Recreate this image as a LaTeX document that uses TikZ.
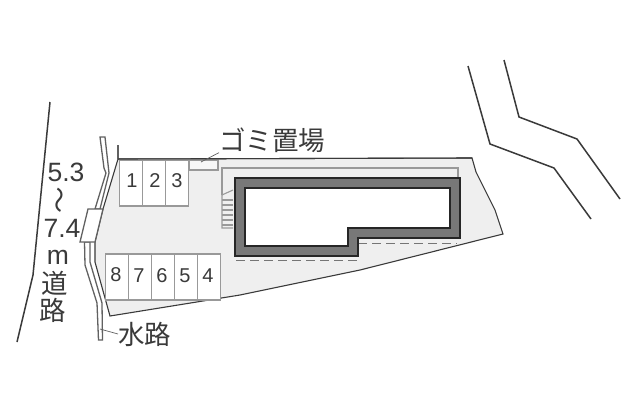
\documentclass[tikz,border=0pt]{standalone}
\usepackage{fontspec}
\setmainfont{Liberation Sans}
\newfontfamily\jpfont{Noto Sans CJK JP}
\definecolor{ink}{HTML}{3A3A3A}
\definecolor{site}{HTML}{EFEFEF}
\definecolor{wall}{HTML}{787878}
\definecolor{edge}{HTML}{999999}
\begin{document}
\begin{tikzpicture}[x=1pt,y=-1pt,
  road/.style={draw=ink,line width=1.5pt},
  bank/.style={draw=ink!80,line width=1.3pt},
  slot/.style={draw=edge,line width=1.4pt,fill=white,rectangle,inner sep=0pt,minimum width=23pt,minimum height=46pt},
  num/.style={text=ink,font=\fontsize{20}{20}\selectfont,inner sep=0pt},
  big/.style={text=ink,font=\fontsize{26.5}{26.5}\selectfont,inner sep=0pt},
  jp/.style={text=ink,font=\jpfont\fontsize{26.5}{26.5}\selectfont,inner sep=0pt},
  lead/.style={draw=ink!80,line width=0.7pt},
  rail/.style={draw=edge,line width=1.1pt}]
\useasboundingbox (0,0) rectangle (640,400);
\fill[white] (0,0) rectangle (640,400);

\filldraw[fill=site,draw=ink,line width=1.1pt] (118,159)--(472,158)--(476,172)--(495,210)--(503,234)--(360,270)--(240,295)--(110,316)--(95,262)--(95,242)--(103,209)--cycle;
\draw[bank] (118,145)--(118,160);

\node[slot] (s1) at (131,183) {};
\node[slot] (s2) at (154,183) {};
\node[slot] (s3) at (177,183) {};
\node[num] (n1) at (132,181) {1};
\node[num] (n2) at (155,181) {2};
\node[num] (n3) at (177,181) {3};
\node[slot] (s8) at (117,277) {};
\node[slot] (s7) at (140,277) {};
\node[slot] (s6) at (163,277) {};
\node[slot] (s5) at (186,277) {};
\node[slot] (s4) at (209,277) {};
\node[num] (n8) at (116,275) {8};
\node[num] (n7) at (139,276) {7};
\node[num] (n6) at (162,276) {6};
\node[num] (n5) at (185,276) {5};
\node[num] (n4) at (208,276) {4};

\filldraw[fill=site!50,draw=edge,line width=1.1pt] (189,160) rectangle (218,170);
\draw[draw=ink,line width=1.1pt] (118,159)--(472,158);

\draw[rail] (233,190)--(222,195)--(222,228)--(233,228);
\draw[rail] (222,195)--(222,168)--(458,168)--(458,178);
\draw[rail] (222,200)--(233,200);
\draw[rail] (222,205)--(233,205);
\draw[rail] (222,210)--(233,210);
\draw[rail] (222,215)--(233,215);
\draw[rail] (222,220)--(233,220);
\draw[rail] (222,225)--(233,225);
\draw[draw=ink!70,line width=1pt,dash pattern=on 9pt off 5pt] (358,243)--(457,243);
\draw[draw=ink!70,line width=1pt,dash pattern=on 9pt off 5pt] (236,260)--(357,260);

\filldraw[fill=wall,draw=black!85,line width=2.2pt] (235,178)--(460,178)--(460,238)--(358,238)--(358,256)--(235,256)--cycle;
\filldraw[fill=white,draw=black!85,line width=2.2pt] (245,188)--(450,188)--(450,228)--(348,228)--(348,246)--(245,246)--cycle;

\draw[road] (50,102)--(43,173)--(33,275)--(17,342);
\draw[road] (468,66)--(490,144)--(554,168)--(591,219);
\draw[road] (504,60)--(519,117)--(577,139)--(620,199);

\filldraw[fill=white,bank] (100,137)--(104,168)--(106,173)--(95,209)--(100,209)--(109,173)--(105,137)--cycle;
\filldraw[fill=white,bank] (84.5,242)--(85,265)--(97,303)--(98.5,340)--(102.5,340)--(102,303)--(90,262)--(90,242)--cycle;
\filldraw[fill=white,bank] (88,209)--(103,209)--(95,242)--(80,242)--cycle;

\node[big] (w1) at (66,172) {5.3};
\node[jp,rotate=90] (w2) at (63,200) {～};
\node[big] (w3) at (62,228) {7.4};
\node[big] (w4) at (58,257) {m};
\node[jp] (w5) at (55,283) {道};
\node[jp] (w6) at (53,310) {路};
\node[jp,anchor=west] (trash) at (219,140) {ゴミ置場};
\node[jp,anchor=west] (ditch) at (118,334) {水路};

\coordinate (trashend) at (201,162);
\coordinate (ditchend) at (100,329);
\draw[lead] (trash.south west)--(trashend);
\draw[lead] (ditch.west)--(ditchend);
\end{tikzpicture}
\end{document}
